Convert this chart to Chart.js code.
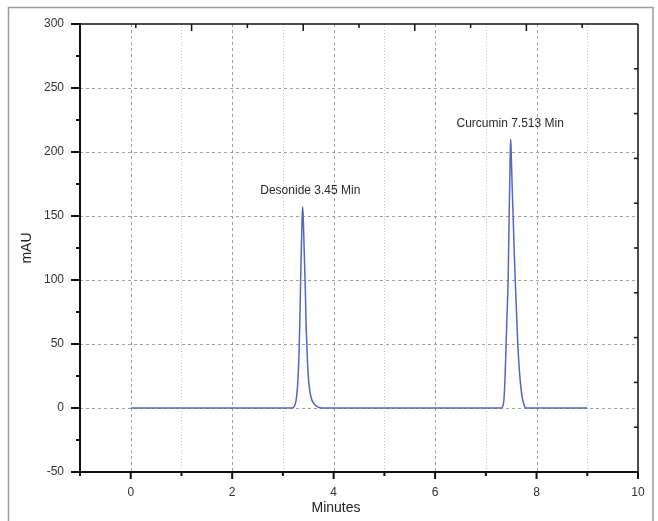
<!DOCTYPE html>
<html>
<head>
<meta charset="utf-8">
<script src="https://cdn.jsdelivr.net/npm/chart.js@4/dist/chart.umd.min.js"></script>
<style>
  html, body { margin: 0; padding: 0; background: #fff; }
  #wrap { width: 658px; height: 521px; position: relative; }
</style>
</head>
<body>
<div id="wrap"><canvas id="chrom"></canvas></div>
<script>
// retention time (min) and absorbance (mAU)
const timeMin = [0, 3.18, 3.22, 3.26, 3.29, 3.32, 3.34, 3.36, 3.38, 3.39, 3.40, 3.42, 3.44, 3.46, 3.48, 3.51, 3.55, 3.60, 3.66, 3.76,
                 7.30, 7.33, 7.36, 7.38, 7.40, 7.42, 7.44, 7.46, 7.48, 7.49, 7.50, 7.52, 7.54, 7.56, 7.58, 7.61, 7.63, 7.67, 7.71, 7.75, 7.79, 9];
const absMAU  = [0, 0, 1, 6, 18, 45, 80, 120, 150, 157, 150, 122, 95, 62, 40, 20, 9, 4, 1.5, 0,
                 0, 1, 8, 25, 50, 75, 100, 150, 195, 210, 200, 172, 148, 122, 100, 70, 50, 25, 10, 3, 0, 0];

const xTicks = [0, 2, 4, 6, 8, 10];
const xMinor = [-1, 1, 3, 5, 7, 9];
const yTicks = [-50, 0, 50, 100, 150, 200, 250, 300];
const yMinor = [-25, 25, 75, 125, 175, 225, 275];
const sideDivs = [1, 2, 3, 4, 5, 6, 7, 8, 9];   // top / right frame ticks (0-10 scale)

const peakLabels = ['Desonide 3.45 Min', 'Curcumin 7.513 Min'];
const peakLabelX = [3.54, 7.48];
const peakLabelY = [169.5, 222];

const FONT = '"Liberation Sans", Arial, sans-serif';

function line(ctx, x1, y1, x2, y2) {
    ctx.beginPath();
    ctx.moveTo(x1, y1);
    ctx.lineTo(x2, y2);
    ctx.stroke();
}

const framePlugin = {
    id: 'frame',
    beforeDraw(chart) {
        const ctx = chart.ctx;
        ctx.save();
        ctx.fillStyle = '#fff';
        ctx.fillRect(0, 0, chart.width, chart.height);
        ctx.strokeStyle = '#9a9a9a';
        ctx.lineWidth = 1.5;
        ctx.strokeRect(8.5, 7.5, chart.width - 5 - 8.5, chart.height + 20);
        ctx.restore();
    },
    beforeDatasetsDraw(chart) {
        const { ctx, chartArea: a, scales: { x, y } } = chart;
        ctx.save();
        ctx.lineWidth = 1;
        // horizontal grid
        ctx.strokeStyle = '#a0a0a0';
        ctx.setLineDash([3, 3]);
        yTicks.forEach(v => {
            if (v <= -50 || v >= 300) return;
            const py = Math.round(y.getPixelForValue(v)) + 0.5;
            line(ctx, a.left, py, a.right, py);
        });
        // vertical grid, even = dashed, odd = dotted
        xTicks.forEach(v => {
            if (v >= 10) return;
            const px = Math.round(x.getPixelForValue(v)) + 0.5;
            line(ctx, px, a.top, px, a.bottom);
        });
        ctx.strokeStyle = '#c4c4c4';
        ctx.setLineDash([1, 2]);
        xMinor.forEach(v => {
            if (v <= -1) return;
            const px = Math.round(x.getPixelForValue(v)) + 0.5;
            line(ctx, px, a.top, px, a.bottom);
        });
        ctx.restore();
    },
    afterDatasetsDraw(chart) {
        const { ctx, chartArea: a, scales: { x, y, x2, y2 } } = chart;
        ctx.save();
        ctx.strokeStyle = '#111';
        // frame
        ctx.lineWidth = 1.5;
        line(ctx, a.left, a.top, a.right, a.top);
        line(ctx, a.right, a.top, a.right, a.bottom);
        ctx.lineWidth = 2;
        line(ctx, a.left, a.top - 1, a.left, a.bottom + 1);
        line(ctx, a.left - 1, a.bottom, a.right + 1, a.bottom);

        // left ticks
        yTicks.forEach(v => { const py = y.getPixelForValue(v); line(ctx, a.left - 9, py, a.left, py); });
        yMinor.forEach(v => { const py = y.getPixelForValue(v); line(ctx, a.left - 4, py, a.left, py); });
        // bottom ticks
        xTicks.forEach(v => { const px = x.getPixelForValue(v); line(ctx, px, a.bottom, px, a.bottom + 7); });
        xMinor.forEach(v => { const px = x.getPixelForValue(v); line(ctx, px, a.bottom, px, a.bottom + 4); });
        // top and right ticks point inward
        ctx.lineWidth = 1.5;
        sideDivs.forEach(v => {
            const px = x2.getPixelForValue(v);
            line(ctx, px, a.top, px, a.top + (v % 2 === 0 ? 7 : 4));
            const py = y2.getPixelForValue(v);
            line(ctx, a.right - 4, py, a.right, py);
        });

        // peak labels
        ctx.fillStyle = '#2a2a2a';
        ctx.font = '12px ' + FONT;
        ctx.textAlign = 'center';
        ctx.textBaseline = 'middle';
        peakLabels.forEach((t, i) => {
            ctx.fillText(t, x.getPixelForValue(peakLabelX[i]), y.getPixelForValue(peakLabelY[i]));
        });

        // axis titles
        ctx.fillStyle = '#222';
        ctx.font = '14px ' + FONT;
        ctx.fillText('Minutes', 336, 508);
        ctx.translate(27, 248);
        ctx.rotate(-Math.PI / 2);
        ctx.fillText('mAU', 0, 0);
        ctx.restore();
    }
};

new Chart(document.getElementById('chrom'), {
    type: 'scatter',
    data: {
        datasets: [{
            label: 'Signal',
            data: timeMin.map((t, i) => ({ x: t, y: absMAU[i] })),
            showLine: true,
            borderColor: '#5266c8',
            borderWidth: 1.5,
            pointRadius: 0,
            cubicInterpolationMode: 'monotone'
        }]
    },
    options: {
        responsive: true,
        maintainAspectRatio: false,
        animation: false,
        layout: { padding: { top: 24, right: 20, left: 0, bottom: 0 } },
        plugins: { legend: { display: false }, tooltip: { enabled: false } },
        scales: {
            x: {
                type: 'linear', position: 'bottom', min: -1, max: 10,
                afterFit: s => { s.height = 49; },
                afterBuildTicks: s => { s.ticks = xTicks.map(v => ({ value: v })); },
                grid: { display: false, drawTicks: false },
                border: { display: false },
                ticks: { color: '#333', padding: 13, font: { family: FONT, size: 12 }, maxRotation: 0 }
            },
            y: {
                type: 'linear', position: 'left', min: -50, max: 300,
                afterFit: s => { s.width = 80; },
                afterBuildTicks: s => { s.ticks = yTicks.map(v => ({ value: v })); },
                grid: { display: false, drawTicks: false },
                border: { display: false },
                ticks: { color: '#333', padding: 16, font: { family: FONT, size: 12 } }
            },
            x2: { type: 'linear', position: 'top', min: 0, max: 10, display: false },
            y2: { type: 'linear', position: 'right', min: 0, max: 10, display: false }
        }
    },
    plugins: [framePlugin]
});
</script>
</body>
</html>
